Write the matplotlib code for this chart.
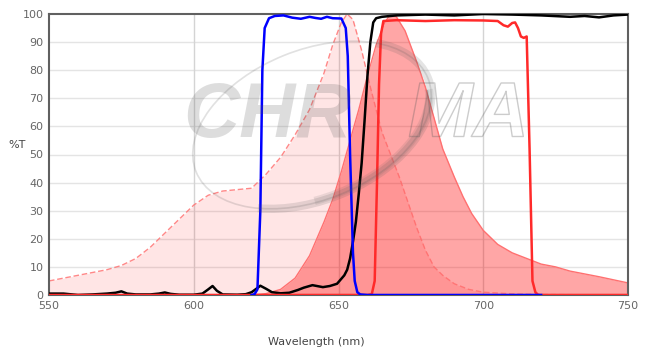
import matplotlib
matplotlib.use("Agg")
import matplotlib.pyplot as plt
import matplotlib.patheffects as pe
from matplotlib.patches import Ellipse, Arc
from matplotlib.transforms import IdentityTransform

# ---- data ----
ex_wl = [550, 560, 570, 575, 580, 585, 590, 595, 600, 605, 610, 615, 620, 625, 630, 635,
         640, 645, 648, 651, 653, 655, 658, 661, 665, 668, 671, 674, 677, 680, 683, 686,
         690, 695, 700, 710, 720, 750]
ex_val = [5, 7, 9, 10.5, 13, 17, 22, 27, 32, 35.5, 37, 37.5, 38, 43, 49, 57,
          66, 79, 89, 97, 100, 98, 87, 74, 58, 50, 42, 33, 24, 16, 10, 7,
          4, 2, 1, 0.4, 0.2, 0]

em_wl = [550, 620, 625, 630, 635, 640, 645, 648, 651, 654, 657, 660, 663, 666, 668, 670,
         673, 677, 680, 683, 686, 690, 693, 696, 700, 705, 710, 715, 720, 725, 730, 740, 750]
em_val = [0, 0, 0.5, 2, 6, 14, 26, 34, 44, 55, 66, 78, 89, 97, 100, 99,
          94, 83, 74, 63, 52, 42, 35, 29, 23, 18, 15, 13, 11, 10, 8.5, 6.5, 4.3]

dich_wl = [550, 555, 560, 565, 570, 573, 575, 577, 580, 585, 588, 590, 592, 595, 600, 603,
           605, 606.5, 608, 610, 615, 618, 620, 622, 623, 625, 627, 630, 633, 636, 638, 641,
           644.6, 647, 649.5, 652, 653, 654, 655, 656, 657, 658, 659, 660, 661, 662, 663,
           665, 670, 680, 690, 700, 710, 720, 730, 735, 740, 745, 750]
dich_val = [0.5, 0.5, 0, 0.2, 0.5, 0.8, 1.3, 0.5, 0.2, 0.2, 0.5, 0.9, 0.4, 0.1, 0.1, 0.5,
            2, 3.2, 1.5, 0.2, 0.1, 0.3, 1, 2.5, 3.3, 2.2, 1, 0.6, 0.8, 1.8, 2.6, 3.5,
            2.8, 3.2, 4, 7, 9, 13, 19, 26, 36, 47, 62, 78, 90, 97, 98.5,
            99, 99.5, 99.8, 99.5, 100, 99.8, 99.5, 99, 99.3, 98.8, 99.5, 99.8]

exf_wl = [620, 621, 622, 623, 623.7, 624.5, 626, 628, 631, 634, 637, 640, 642, 644, 646,
          648, 651, 652.5, 653.2, 654, 655, 655.6, 656.5, 657.5, 660, 720]
exf_val = [0, 0.3, 2, 30, 80, 95, 98.5, 99.3, 99.5, 98.7, 98.3, 99, 98.6, 98.3, 99,
           98.5, 98.4, 95, 85, 50, 15, 5, 1, 0.2, 0, 0]

emf_wl = [550, 660, 661.5, 662.5, 663.3, 664, 664.7, 665.5, 670, 680, 690, 700, 705, 707,
          708.5, 710, 711, 712, 713, 714, 715, 716, 717, 718, 719, 750]
emf_val = [0, 0, 0.3, 5, 40, 75, 93, 97.5, 97.8, 97.5, 97.8, 97.7, 97.5, 96, 95.5, 96.8,
           97, 95, 92, 91.5, 92, 52, 5, 1, 0, 0]

x_ticks = [550, 600, 650, 700, 750]
y_ticks = [0, 10, 20, 30, 40, 50, 60, 70, 80, 90, 100]

# ---- figure ----
W, H = 652, 354
fig = plt.figure(figsize=(W / 100, H / 100), dpi=100)
ax = fig.add_axes([49 / W, 59 / H, 579 / W, 281 / H])
ax.set_xlim(550, 750)
ax.set_ylim(0, 100)

for y in y_ticks[1:-1]:
    ax.axhline(y, color='#e4e4e4', lw=1, zorder=0)
for x in x_ticks[1:-1]:
    ax.axvline(x, color='#d4d4d4', lw=1, zorder=0)

# excitation spectrum
ax.fill_between(ex_wl, ex_val, 0, color='red', alpha=0.1, lw=0, zorder=1)
ax.plot(ex_wl, ex_val, color='#ff6a6a', lw=1, ls=(0, (4, 2)), alpha=0.8, zorder=2)
# emission spectrum
ax.fill_between(em_wl, em_val, 0, color='red', alpha=0.35, lw=0, zorder=1.5)
ax.plot(em_wl, em_val, color='#ff7070', lw=1, zorder=2)

# filters
ax.plot(dich_wl, dich_val, color='black', lw=1.8, zorder=4)
ax.plot(emf_wl, emf_val, color='#ff2a2a', lw=1.8, zorder=5)
ax.plot(exf_wl, exf_val, color='#0000ff', lw=1.8, zorder=6)

# watermark (pixel coordinates)
wm = (0.35, 0.35, 0.35, 0.2)
ident = IdentityTransform()
fig.text(183 / W, 1 - 116 / H, 'CHR', fontsize=56, fontweight='bold', fontstyle='italic',
         family='Liberation Sans', color=wm, ha='left', va='center', zorder=7)
fig.text(408 / W, 1 - 116 / H, 'MA', fontsize=56, fontweight='bold', fontstyle='italic',
         family='Liberation Sans', color='none', ha='left', va='center', zorder=7,
         path_effects=[pe.withStroke(linewidth=1, foreground=(0.35, 0.35, 0.35, 0.3))])
cx, cy = 312, H - 125
fig.patches.append(Ellipse((cx, cy), 250, 150, angle=22, transform=ident, fill=False,
                           ec=(0.35, 0.35, 0.35, 0.18), lw=1.2, zorder=7))
fig.patches.append(Arc((cx, cy), 250, 150, angle=22, theta1=215, theta2=30, transform=ident,
                       ec=(0.35, 0.35, 0.35, 0.16), lw=6, zorder=7))
fig.patches.append(Arc((cx, cy), 246, 146, angle=22, theta1=250, theta2=355, transform=ident,
                       ec=(0.35, 0.35, 0.35, 0.12), lw=6, zorder=7))

# frame and ticks
for s in ax.spines.values():
    s.set_color('#606060')
    s.set_linewidth(1.5)
ax.set_xticks(x_ticks)
ax.set_yticks(y_ticks)
ax.tick_params(length=0, labelsize=8, colors='#666666', pad=4)
fig.text(8 / W, 1 - 145 / H, '%T', ha='left', va='center', fontsize=8, color='#444444')
fig.text(316 / W, 7 / H, 'Wavelength (nm)', ha='center', va='bottom', fontsize=8, color='#444444')

fig.savefig('out.png', dpi=100)
